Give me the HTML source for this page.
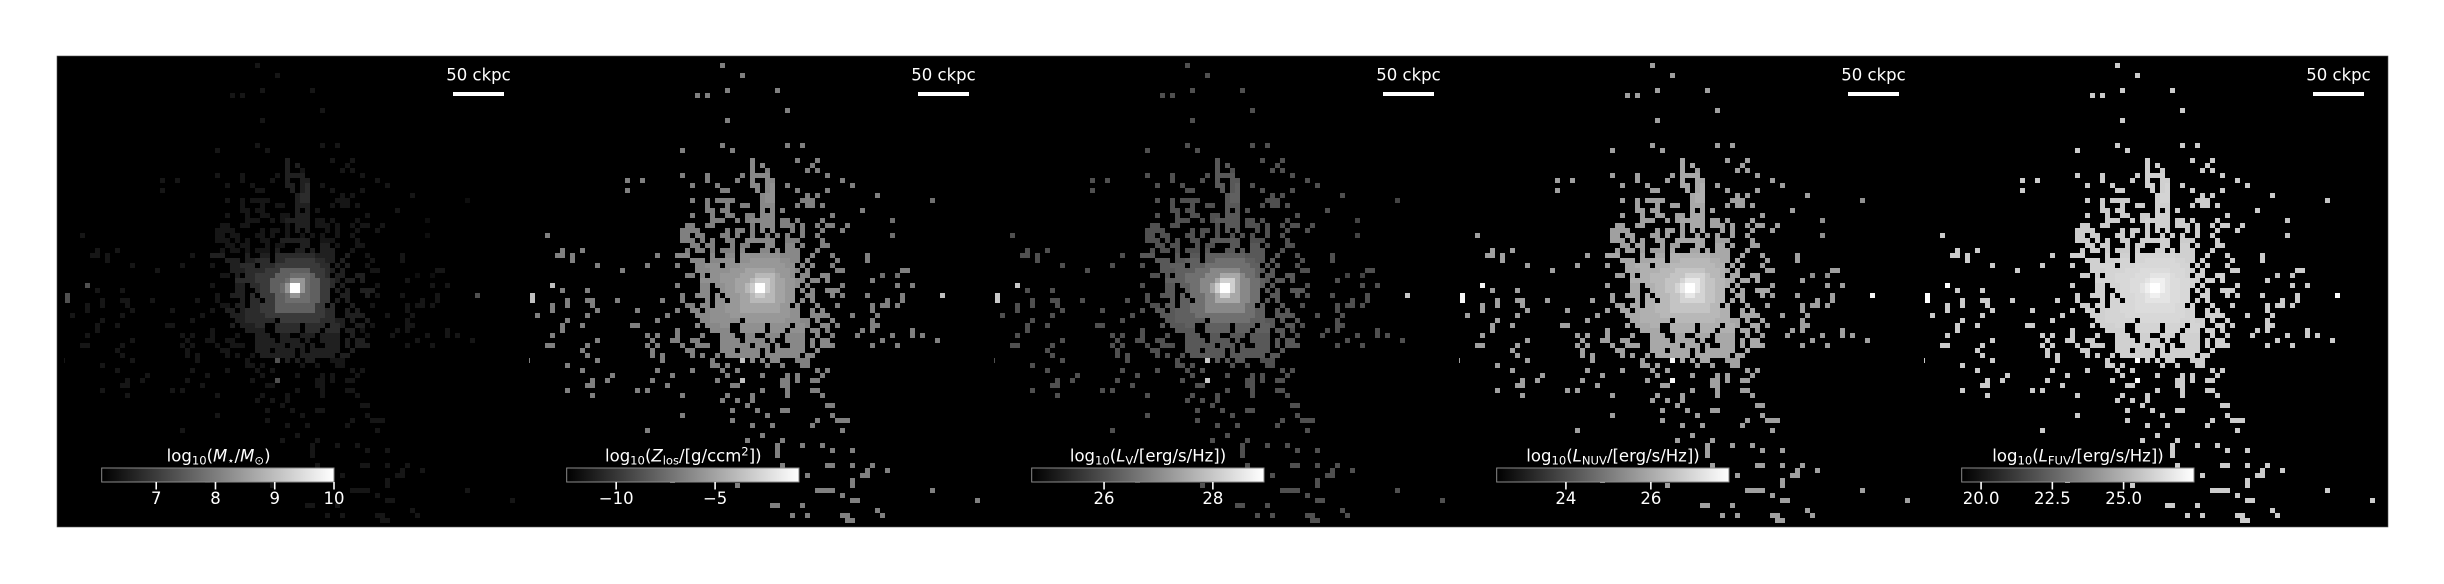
<!DOCTYPE html>
<html lang="en">
<head>
<meta charset="utf-8">
<title>Galaxy property maps</title>
<style>
  html, body { margin: 0; padding: 0; background: #fff; width: 2444px; height: 584px; overflow: hidden; }
  svg { display: block; }
  text { font-family: "DejaVu Sans", "Liberation Sans", sans-serif; fill: #fff; font-size: 16.5px; }
  .sub { font-size: 11.6px; }
  .it { font-style: italic; }
</style>
</head>
<body>
<svg id="figure" xmlns="http://www.w3.org/2000/svg" width="2444" height="584" viewBox="0 0 2444 584">
  <defs>
    <linearGradient id="grayRamp" x1="0" x2="1" y1="0" y2="0">
      <stop offset="0" stop-color="#000"></stop>
      <stop offset="1" stop-color="#fff"></stop>
    </linearGradient>
  </defs>
  <rect x="0" y="0" width="2444" height="584" fill="#fff"></rect>
  <rect x="57" y="56" width="2331" height="471" fill="#000" stroke="#555" stroke-width="0.6"></rect>

  <g id="panel-0"></g>
  <g id="panel-1"></g>
  <g id="panel-2"></g>
  <g id="panel-3"></g>
  <g id="panel-4"></g>

  <text x="218.6" y="461.5" text-anchor="middle">log<tspan class="sub" dy="3">10</tspan><tspan dy="-3">(</tspan><tspan class="it">M</tspan><tspan class="sub" dy="3">⋆</tspan><tspan dy="-3">/</tspan><tspan class="it">M</tspan><tspan class="sub" dy="3">⊙</tspan><tspan dy="-3">)</tspan></text>
  <text x="683.3" y="461.5" text-anchor="middle">log<tspan class="sub" dy="3">10</tspan><tspan dy="-3">(</tspan><tspan class="it">Z</tspan><tspan class="sub" dy="3">los</tspan><tspan dy="-3">/[g/ccm</tspan><tspan class="sub" dy="-6">2</tspan><tspan dy="6">])</tspan></text>
  <text x="1148" y="461.5" text-anchor="middle">log<tspan class="sub" dy="3">10</tspan><tspan dy="-3">(</tspan><tspan class="it">L</tspan><tspan class="sub" dy="3">V</tspan><tspan dy="-3">/[erg/s/Hz])</tspan></text>
  <text x="1613" y="461.5" text-anchor="middle">log<tspan class="sub" dy="3">10</tspan><tspan dy="-3">(</tspan><tspan class="it">L</tspan><tspan class="sub" dy="3">NUV</tspan><tspan dy="-3">/[erg/s/Hz])</tspan></text>
  <text x="2078" y="461.5" text-anchor="middle">log<tspan class="sub" dy="3">10</tspan><tspan dy="-3">(</tspan><tspan class="it">L</tspan><tspan class="sub" dy="3">FUV</tspan><tspan dy="-3">/[erg/s/Hz])</tspan></text>

  <text x="478.5" y="80.7" text-anchor="middle">50 ckpc</text>
  <text x="943.5" y="80.7" text-anchor="middle">50 ckpc</text>
  <text x="1408.5" y="80.7" text-anchor="middle">50 ckpc</text>
  <text x="1873.5" y="80.7" text-anchor="middle">50 ckpc</text>
  <text x="2338.5" y="80.7" text-anchor="middle">50 ckpc</text>
  <rect x="453" y="92" width="51" height="4" fill="#fff"></rect>
  <rect x="918" y="92" width="51" height="4" fill="#fff"></rect>
  <rect x="1383" y="92" width="51" height="4" fill="#fff"></rect>
  <rect x="1848" y="92" width="51" height="4" fill="#fff"></rect>
  <rect x="2313" y="92" width="51" height="4" fill="#fff"></rect>
</svg>

<script>
// Shared sparse map: row -> "col:levels" runs. '_' skips a cell; level a = isolated bright clump.
const pixelRuns = {
  2:"39:2", 4:"43:2", 7:"40:2 50:2", 8:"34:2 36:2", 11:"52:2", 13:"40:2",
  18:"39:2 52:2 55:2", 19:"31:2 41:2",
  21:"45:3 54:2 58:2", 22:"45:3 47:3 57:2", 23:"45:3 48:2 56:2 58:2",
  24:"31:2 36:2 43:2 45:3333 60:2",
  25:"20:2 23:2 36:2 42:2 45:3 48:33 63:2",
  26:"33:2 38:2 45:33 48:34 52:2 65:2",
  27:"20:2 39:22 46:3 48:34 54:2 60:2",
  28:"47:344 56:2 58:2 70:2",
  29:"33:2 36:2 38:2222 47:344 55:222 81:1",
  30:"36:2 40:2 43:22 47:333 54:2 56:22 59:2",
  31:"36:22 39:22 47:3_3 51:2 67:2",
  32:"33:2 37:2 40:22 44:22 47:333 61:2",
  33:"37:222 42:2 44:233333 51:22 54:2 59:2 73:1",
  34:"32:22 36:22 45:2 47:333 51:222 55:2 58:2 60:22 64:2",
  35:"31:2222 40:2 42:22 45:2 47:3 49:3 53:2 55:2 59:2 63:2",
  36:"4:2 31:22 34:22 39:22 42:2 45:2 48:2 50:2 52:2 55:2 58:2 73:1",
  37:"31:222 35:2 37:2 40:22 44:333333 52:222 59:2",
  38:"33:22 36:22 41:2 43:22 48:33 52:33 55:2 59:22",
  39:"7:2 11:2 32:2 34:22 37:2 39:222 43:3 47:33 50:3 52:333 58:2",
  40:"6:22 9:2 26:2 30:33 32:3 37:3 40:33 43:444 46:44444 51:33 53:33 57:3 61:2 68:2",
  41:"9:2 33:33 35:3 37:33 39:444_44 45:555 48:555 51:44 53:33 56:3 62:2 68:2",
  42:"14:2 24:2 30:2 34:33 36:444 40:444 43:5555 47:55 49:555 52:44 55:3 57:3 61:2",
  43:"19:2 34:333 37:4444 41:555 44:6666 48:665 51:554 54:3 56:3 62:22 75:22",
  44:"32:22 35:3 37:44 39:555 42:5666 46:7777 50:655 53:4 55:33 59:33 71:1 74:1",
  45:"35:444 38:455 41:566 44:6788 48:8766 52:554 55:3 57:33 60:3 69:2",
  46:"5:a 30:2 35:33 38:4455 42:6678 46:99 48:8766 52:554 56:3 63:2 74:2 77:2",
  47:"7:2 12:2 35:33 39:455 42:6678 46:99 48:8766 52:55 55:3 57:3 60:333",
  48:"1:a 31:2 34:333 38:4 40:555 43:6678 47:87 49:766 52:55 56:33 61:3 63:2 68:2 75:2 83:a",
  49:"1:a 8:2 12:22 18:2 27:2 31:2 36:3 38:44 41:5566 45:7777 49:766 52:55 55:3 57:3 72:2 75:2",
  50:"5:2 8:2 13:2 32:22 35:33 38:44 40:5556 44:6666 48:666 51:55 54:4 58:3 62:2 69:2 71:22 74:2",
  51:"5:2 14:2 22:2 30:2 33:33 36:3444 40:5556 44:6666 48:666 51:55 53:44 57:3 59:3 69:2",
  52:"2:2 12:2 28:2 34:3334444 41:55555 46:55555 51:5544 57:3333 65:2 70:2",
  53:"8:2 26:2 35:334444 41:44 44:5555 48:5555 52:444 55:33 58:3 61:3 69:2",
  54:"7:2 11:2 21:22 34:3 36:33344 43:44444 49:4444 54:44 56:3 59:33 62:2 69:22",
  55:"7:2 30:2 37:3333 43:44444 49:444 53:444 57:33 60:2 67:2 69:2 77:2",
  56:"5:2 24:2 26:2 30:2 35:2 39:333 44:33 48:333 52:3333 58:3 61:2 66:2 73:2 77:2 79:2",
  57:"14:2 25:2 29:22 33:22 39:3333 44:3333 49:3 52:3333 57:3 59:33 71:2 82:2",
  58:"4:22 12:2 24:2 26:2 31:2 34:222 39:333333 46:333 50:3 53:333 57:3 59:333 69:2 74:2",
  59:"11:2 25:2 32:22 39:333 43:3333 48:3 50:333333 58:3",
  60:"12:2 25:2 27:2 33:2 35:2 38:2 40:3333333 48:3333333 56:33",
  61:"0:2 14:2 27:2 37:2 43:a 45:3 47:3 49:33 54:222",
  62:"8:2 37:22 40:2 48:2 51:2 55:22",
  63:"11:2 26:2 33:2 39:2 42:2 58:2 60:2",
  64:"17:2 29:2 40:2 47:2 52:2 54:2 59:2",
  65:"13:2 16:2 25:2 38:2 43:a 51:22 54:2 57:22",
  66:"12:22 28:2 41:22 51:22",
  67:"8:2 22:2 24:2 47:2 52:2 57:22",
  68:"13:2 31:2 40:2 45:2 52:2 59:2",
  69:"39:2 42:2 45:2",
  70:"44:2 60:22", 71:"41:2 46:2 51:22", 72:"31:2 48:2 61:2", 73:"41:2 58:2 62:222",
  74:"45:2 49:2 57:2", 75:"24:2 63:2", 76:"47:2", 77:"44:2 51:2", 78:"50:2 55:2 59:2",
  79:"50:2 61:2 65:2", 80:"50:2", 82:"51:2 60:22 65:2 69:2", 83:"68:2 72:2",
  84:"56:2 67:22", 85:"29:2 65:2", 86:"42:2 65:2", 87:"58:2222 81:2", 88:"63:2",
  89:"65:22 90:2", 90:"49:22 55:2", 91:"70:2", 92:"53:2 56:2 63:22 71:2", 93:"64:22"
};

// Physical value represented by each map level, per quantity.
const massLevelValues  = [6.23, 6.30, 6.42, 6.57, 6.76, 6.97, 7.56, 7.77, 8.39, 10.0, 7.31];
const metalLevelValues = [-8.08, -7.34, -6.61, -6.24, -5.87, -5.50, -4.95, -4.03, -3.11, -0.76, -3.66];
const vLevelValues     = [25.61, 25.81, 26.01, 26.14, 26.28, 26.55, 26.95, 27.48, 28.15, 28.94, 28.02];
const nuvLevelValues   = [25.12, 25.46, 25.80, 25.97, 26.15, 26.32, 26.58, 26.92, 27.35, 27.84, 27.69];
const fuvLevelValues   = [25.20, 25.58, 25.84, 25.97, 26.10, 26.22, 26.35, 26.61, 26.99, 27.47, 27.47];

// Colour ranges and colourbar ticks.
const massRange  = [6.08, 10.0];
const metalRange = [-12.5, -0.76];
const vRange     = [24.67, 28.94];
const nuvRange   = [22.37, 27.84];
const fuvRange   = [19.32, 27.47];

const massTicks  = [7, 8, 9, 10];
const metalTicks = [-10, -5];
const vTicks     = [26, 28];
const nuvTicks   = [24, 26];
const fuvTicks   = [20, 22.5, 25];

const massTickLabels  = ["7", "8", "9", "10"];
const metalTickLabels = ["\u221210", "\u22125"];
const vTickLabels     = ["26", "28"];
const nuvTickLabels   = ["24", "26"];
const fuvTickLabels   = ["20.0", "22.5", "25.0"];

const panelKeys = ["stellar-mass", "metallicity", "v-band", "nuv", "fuv"];
const panelLevelValues = [massLevelValues, metalLevelValues, vLevelValues, nuvLevelValues, fuvLevelValues];
const panelRanges = [massRange, metalRange, vRange, nuvRange, fuvRange];
const panelTicks = [massTicks, metalTicks, vTicks, nuvTicks, fuvTicks];
const panelTickLabels = [massTickLabels, metalTickLabels, vTickLabels, nuvTickLabels, fuvTickLabels];

const SVG_NS = "http://www.w3.org/2000/svg";
const svgRoot = document.getElementById("figure");
const panelLeft = i => 57 + 465 * i;
const cellX = (i, col) => panelLeft(i) + 3 + 5 * col;
const cellY = row => 53 + 5 * row;
const colorbarLeft = i => panelLeft(i) + 44.7;
const colorbarWidth = 232.3;
const colorbarX = (i, value) => colorbarLeft(i) + (value - panelRanges[i][0]) / (panelRanges[i][1] - panelRanges[i][0]) * colorbarWidth;

function grayOf(i, value) {
  const range = panelRanges[i];
  const t = Math.max(0, Math.min(1, (value - range[0]) / (range[1] - range[0])));
  const g = Math.round(t * 255);
  return "rgb(" + g + "," + g + "," + g + ")";
}

function drawCells(i) {
  const group = document.getElementById("panel-" + i);
  const clipLeft = panelLeft(i) + 7;
  Object.keys(pixelRuns).forEach(rowKey => {
    const row = Number(rowKey);
    pixelRuns[rowKey].split(" ").forEach(run => {
      const parts = run.split(":");
      const startCol = Number(parts[0]);
      parts[1].split("").forEach((ch, k) => {
        if (ch === "_") return;
        const level = parseInt(ch, 11);
        const value = panelLevelValues[i][level];
        const x0 = Math.max(cellX(i, startCol + k), clipLeft);
        const x1 = cellX(i, startCol + k) + 5;
        const cell = document.createElementNS(SVG_NS, "rect");
        cell.setAttribute("x", x0);
        cell.setAttribute("y", cellY(row));
        cell.setAttribute("width", x1 - x0);
        cell.setAttribute("height", 5);
        cell.setAttribute("fill", grayOf(i, value));
        cell.setAttribute("shape-rendering", "crispEdges");
        
        
        group.appendChild(cell);
      });
    });
  });
}

function drawColorbar(i) {
  const group = document.getElementById("panel-" + i);
  const bar = document.createElementNS(SVG_NS, "rect");
  bar.setAttribute("x", colorbarLeft(i));
  bar.setAttribute("y", 468);
  bar.setAttribute("width", colorbarWidth);
  bar.setAttribute("height", 14);
  bar.setAttribute("fill", "url(#grayRamp)");
  bar.setAttribute("stroke", "#8a8a8a");
  bar.setAttribute("stroke-width", "1");
  
  
  group.appendChild(bar);

  panelTicks[i].forEach((value, k) => {
    const x = colorbarX(i, value);
    const tick = document.createElementNS(SVG_NS, "line");
    tick.setAttribute("x1", x);
    tick.setAttribute("x2", x);
    tick.setAttribute("y1", 482);
    tick.setAttribute("y2", 489.5);
    tick.setAttribute("stroke", "#fff");
    tick.setAttribute("stroke-width", "1.6");
    
    
    group.appendChild(tick);

    const label = document.createElementNS(SVG_NS, "text");
    label.setAttribute("x", x);
    label.setAttribute("y", 504);
    label.setAttribute("text-anchor", "middle");
    
    
    label.textContent = panelTickLabels[i][k];
    group.appendChild(label);
  });
}

for (let i = 0; i < panelKeys.length; i++) {
  drawCells(i);
}
for (let i = 0; i < panelKeys.length; i++) {
  drawColorbar(i);
}
</script>
</body>
</html>
